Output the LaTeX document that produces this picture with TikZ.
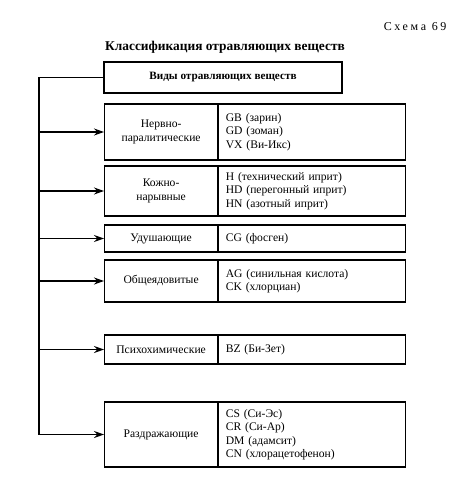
\documentclass[tikz,border=0pt]{standalone}
\usepackage{fontspec}
\setmainfont{Liberation Serif}
\usetikzlibrary{arrows.meta,positioning}

\begin{document}
\begin{tikzpicture}[x=1pt, y=-1pt,
  every node/.style={font=\fontsize{11.6}{13.5}\selectfont},
  kind/.style={draw, line width=1.2pt, minimum width=113pt, minimum height=#1,
               text width=107pt, align=center, inner sep=3pt, anchor=west},
  agents/.style={draw, line width=1.2pt, minimum width=187pt, minimum height=#1,
                 text width=173pt, align=left, inner xsep=7pt, anchor=west},
  arr/.style={-{Stealth[length=10pt,width=7pt]}, line width=1.2pt},
]
\useasboundingbox (0,0) rectangle (456,479);
% headings
\node[anchor=east, font=\fontsize{12}{14}\selectfont\addfontfeature{LetterSpace=22}]
  (scheme) at (450,27) {Схема 69};
\node[font=\fontsize{13.4}{15}\selectfont\bfseries] (title) at (225,47)
  {Классификация отравляющих веществ};
\node[draw, line width=1.2pt, minimum width=238pt, minimum height=31pt,
      font=\fontsize{11.2}{13}\selectfont\bfseries] (top) at (223,77.5)
  {Виды отравляющих веществ};
% classes of agents
\node[kind=56pt] (nerv) at (104,132) {Нервно-\\паралитические};
\node[agents=56pt] (nervA) at (nerv.east) {GB (зарин)\\GD (зоман)\\VX (Ви-Икс)};
\node[kind=50pt] (skin) at (104,191) {Кожно-\\нарывные};
\node[agents=50pt] (skinA) at (skin.east)
  {H (технический иприт)\\HD (перегонный иприт)\\HN (азотный иприт)};
\node[kind=27pt] (chok) at (104,238.5) {Удушающие};
\node[agents=27pt] (chokA) at (chok.east) {CG (фосген)};
\node[kind=42pt] (gen) at (104,281) {Общеядовитые};
\node[agents=42pt] (genA) at (gen.east) {AG (синильная кислота)\\CK (хлорциан)};
\node[kind=29pt] (psy) at (104,349.5) {Психохимические};
\node[agents=29pt] (psyA) at (psy.east) {BZ (Би-Зет)};
\node[kind=65pt] (irr) at (104,434.5) {Раздражающие};
\node[agents=65pt] (irrA) at (irr.east)
  {CS (Си-Эс)\\CR (Си-Ар)\\DM (адамсит)\\CN (хлорацетофенон)};
% connectors
\coordinate (trunk) at (39,77.5);
\draw[arr] (top.west) -- (trunk) -- (trunk |- irr.west) -- (irr.west);
\foreach \n in {nerv,skin,chok,gen,psy}
  \draw[arr] (trunk |- \n.west) -- (\n.west);
\end{tikzpicture}
\end{document}
